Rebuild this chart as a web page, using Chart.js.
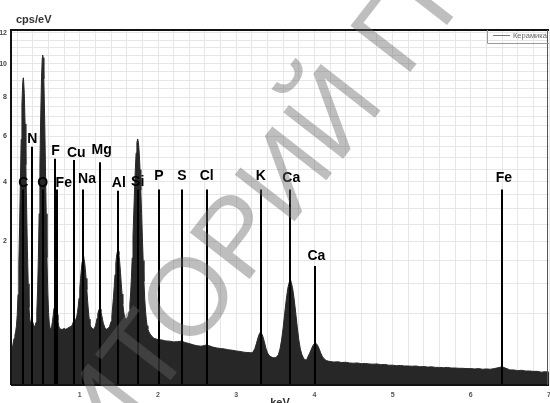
<!DOCTYPE html>
<html>
<head>
<meta charset="utf-8">
<script src="https://cdn.jsdelivr.net/npm/chart.js@4.4.1/dist/chart.umd.min.js"></script>
<style>
  html, body { margin: 0; padding: 0; background: #fff; }
  #wrap { width: 550px; height: 403px; }
</style>
</head>
<body>
<div id="wrap"><canvas id="spectrum" width="550" height="403"></canvas></div>
<script>
// EDS spectrum, values (cps/eV vs keV)
const energyKeV = [
  0.12,0.13,0.14,0.15,0.16,0.17,0.18,0.19,0.20,0.21,
  0.22,0.23,0.24,0.25,0.26,0.27,0.277,0.28,0.29,0.30,
  0.31,0.32,0.33,0.34,0.35,0.36,0.37,0.38,0.39,0.40,
  0.41,0.42,0.43,0.44,0.45,0.46,0.47,0.48,0.49,0.50,
  0.51,0.52,0.525,0.53,0.54,0.55,0.56,0.57,0.58,0.59,
  0.60,0.61,0.62,0.63,0.64,0.65,0.66,0.67,0.68,0.69,
  0.70,0.71,0.72,0.73,0.74,0.76,0.78,0.80,0.82,0.84,
  0.86,0.88,0.90,0.91,0.92,0.93,0.94,0.95,0.96,0.97,
  0.98,0.99,1.00,1.01,1.02,1.03,1.04,1.045,1.05,1.06,
  1.07,1.08,1.09,1.10,1.11,1.12,1.13,1.14,1.16,1.18,
  1.20,1.21,1.22,1.23,1.24,1.25,1.26,1.27,1.28,1.29,
  1.30,1.32,1.34,1.36,1.38,1.40,1.41,1.42,1.43,1.44,
  1.45,1.46,1.47,1.48,1.49,1.50,1.51,1.52,1.53,1.54,
  1.55,1.56,1.57,1.58,1.60,1.62,1.63,1.64,1.65,1.66,
  1.67,1.68,1.69,1.70,1.71,1.72,1.73,1.74,1.75,1.76,
  1.77,1.78,1.79,1.80,1.81,1.82,1.83,1.84,1.85,1.86,
  1.87,1.88,1.90,1.92,1.95,2.00,2.05,2.10,2.15,2.20,
  2.25,2.30,2.35,2.40,2.45,2.50,2.55,2.60,2.62,2.65,
  2.70,2.75,2.80,2.85,2.90,2.95,3.00,3.05,3.10,3.15,
  3.20,3.22,3.24,3.26,3.28,3.30,3.31,3.32,3.34,3.36,
  3.38,3.40,3.42,3.44,3.46,3.48,3.50,3.52,3.54,3.56,
  3.58,3.60,3.62,3.64,3.66,3.68,3.69,3.70,3.72,3.74,
  3.76,3.78,3.80,3.82,3.84,3.86,3.88,3.90,3.92,3.94,
  3.96,3.98,4.00,4.02,4.04,4.06,4.08,4.10,4.12,4.15,
  4.20,4.25,4.30,4.35,4.40,4.45,4.50,4.55,4.60,4.65,
  4.70,4.75,4.80,4.85,4.90,4.95,5.00,5.05,5.10,5.15,
  5.20,5.25,5.30,5.35,5.40,5.45,5.50,5.55,5.60,5.65,
  5.70,5.75,5.80,5.85,5.90,5.95,6.00,6.05,6.10,6.15,
  6.20,6.25,6.30,6.35,6.40,6.45,6.50,6.55,6.60,6.65,
  6.70,6.75,6.80,6.85,6.90,6.95,7.00
];
const cpsPerEv = [
  0.09,0.11,0.14,0.18,0.21,0.24,0.28,0.34,0.48,0.79,
  1.40,2.44,3.98,5.84,7.64,8.86,9.13,9.08,8.23,6.60,
  4.70,3.00,1.76,0.99,0.58,0.42,0.37,0.37,0.38,0.37,
  0.35,0.33,0.34,0.38,0.52,0.86,1.57,2.84,4.72,6.96,
  9.07,10.37,10.54,10.37,9.07,6.96,4.72,2.84,1.57,0.85,
  0.51,0.36,0.31,0.30,0.33,0.39,0.47,0.57,0.64,0.64,
  0.58,0.48,0.40,0.34,0.31,0.30,0.30,0.31,0.30,0.31,
  0.32,0.33,0.34,0.37,0.39,0.40,0.41,0.42,0.45,0.51,
  0.60,0.73,0.90,1.10,1.30,1.47,1.57,1.59,1.56,1.48,
  1.31,1.10,0.88,0.68,0.53,0.42,0.36,0.33,0.31,0.30,
  0.34,0.38,0.43,0.49,0.53,0.56,0.555,0.52,0.47,0.42,
  0.37,0.32,0.30,0.31,0.33,0.39,0.46,0.59,0.74,0.94,
  1.18,1.42,1.61,1.72,1.73,1.64,1.46,1.23,0.99,0.80,
  0.64,0.53,0.46,0.43,0.42,0.46,0.52,0.63,0.82,1.12,
  1.56,2.14,2.86,3.68,4.50,5.21,5.69,5.86,5.68,5.20,
  4.49,3.67,2.84,2.10,1.50,1.04,0.73,0.53,0.42,0.34,
  0.30,0.28,0.25,0.23,0.21,0.20,0.196,0.188,0.186,0.180,
  0.182,0.186,0.174,0.166,0.156,0.149,0.146,0.151,0.158,0.150,
  0.139,0.133,0.129,0.126,0.120,0.117,0.112,0.109,0.104,0.102,
  0.100,0.11,0.13,0.17,0.22,0.26,0.27,0.265,0.23,0.18,
  0.13,0.10,0.085,0.078,0.074,0.072,0.072,0.077,0.09,0.125,
  0.195,0.315,0.495,0.705,0.905,1.03,1.05,1.035,0.92,0.725,
  0.515,0.33,0.20,0.125,0.09,0.07,0.062,0.06,0.08,0.098,
  0.123,0.149,0.167,0.168,0.153,0.128,0.10,0.08,0.068,0.058,
  0.053,0.051,0.052,0.049,0.050,0.047,0.046,0.047,0.044,0.045,
  0.043,0.042,0.043,0.040,0.041,0.038,0.038,0.036,0.037,0.035,
  0.035,0.034,0.035,0.032,0.033,0.031,0.032,0.030,0.030,0.029,
  0.030,0.028,0.028,0.027,0.027,0.026,0.026,0.025,0.026,0.024,
  0.025,0.024,0.026,0.029,0.032,0.027,0.022,0.022,0.020,0.021,
  0.019,0.019,0.018,0.018,0.016,0.017,0.016
];

// element markers
const markerNames    = ['C','N','O','F','Fe','Cu','Na','Mg','Al','Si','P','S','Cl','K','Ca','Ca','Fe'];
const markerEnergies = [0.277,0.392,0.525,0.677,0.705,0.930,1.041,1.254,1.486,1.740,2.013,2.307,2.622,3.313,3.691,4.012,6.398];
const markerHeights  = [3.7,5.5,3.7,4.95,3.7,4.9,3.7,4.8,3.65,3.7,3.7,3.7,3.7,3.7,3.7,1.37,3.7];

const xTickLabels = [1,2,3,4,5,6,7];
const yTickLabels = [2,4,6,8,10,12];
const legendLabel = 'Керамика';
const xTitle = 'keV';
const yTitle = 'cps/eV';
const watermark = 'РЕПОЗИТОРИЙ ГГУ';

if (energyKeV.length !== cpsPerEv.length) console.log('length mismatch', energyKeV.length, cpsPerEv.length);

// square-root value axis (like the EDS software)
class SqrtScale extends Chart.Scale {
  determineDataLimits() {
    this.min = this.options.min;
    this.max = this.options.max;
  }
  buildTicks() {
    const ticks = [];
    for (let v = 0.5; v <= this.max + 1e-9; v += 0.5) ticks.push({ value: v });
    return ticks;
  }
  configure() {
    super.configure();
    this._startValue = Math.sqrt(this.min);
    this._valueRange = Math.sqrt(this.max) - this._startValue;
  }
  getPixelForValue(value) {
    return this.getPixelForDecimal((Math.sqrt(Math.max(value, 0)) - this._startValue) / this._valueRange);
  }
  getValueForPixel(pixel) {
    const d = this.getDecimalForPixel(pixel);
    return Math.pow(this._startValue + d * this._valueRange, 2);
  }
}
SqrtScale.id = 'sqrt';
SqrtScale.defaults = {};
Chart.register(SqrtScale);

const FONT = '"Liberation Sans", Arial, sans-serif';
// label nudges (px) so the text sits like in the original
const labelDx  = [0,0,0,1,7,2,4,2,1,0,0,0,0,0,1,1,2];
const labelGap = [2,4,2,4,2,3,6,8,4,3,9,9,9,9,7,6,7];

const decorPlugin = {
  id: 'decor',
  afterDatasetsDraw(chart) {
    const ctx = chart.ctx, xs = chart.scales.x, ys = chart.scales.y;
    const a = chart.chartArea;
    ctx.save();
    // marker lines
    ctx.strokeStyle = '#000';
    ctx.lineWidth = 2;
    markerEnergies.forEach((e, i) => {
      const x = Math.round(xs.getPixelForValue(e));
      const yTop = ys.getPixelForValue(markerHeights[i]);
      ctx.beginPath();
      ctx.moveTo(x, a.bottom);
      ctx.lineTo(x, yTop);
      ctx.stroke();
    });
    // marker labels
    ctx.fillStyle = '#000';
    ctx.font = 'bold 14px ' + FONT;
    ctx.textAlign = 'center';
    ctx.textBaseline = 'alphabetic';
    markerNames.forEach((n, i) => {
      const x = xs.getPixelForValue(markerEnergies[i]) + labelDx[i];
      const yTop = ys.getPixelForValue(markerHeights[i]);
      ctx.fillText(n, x, yTop - labelGap[i]);
    });
    // frame
    ctx.strokeStyle = '#111';
    ctx.lineWidth = 2;
    ctx.beginPath();
    ctx.moveTo(a.left, a.bottom); ctx.lineTo(a.left, a.top); ctx.lineTo(a.right, a.top);
    ctx.moveTo(a.left, a.bottom); ctx.lineTo(a.right, a.bottom);
    ctx.stroke();
    ctx.strokeStyle = '#555';
    ctx.lineWidth = 1;
    ctx.beginPath();
    ctx.moveTo(a.right - 1.5, a.top); ctx.lineTo(a.right - 1.5, a.bottom);
    ctx.stroke();
    // legend box
    ctx.strokeStyle = '#9a9a9a';
    ctx.beginPath();
    ctx.moveTo(487.5, a.top); ctx.lineTo(487.5, 43.5); ctx.lineTo(a.right, 43.5);
    ctx.stroke();
    ctx.strokeStyle = '#777';
    ctx.beginPath();
    ctx.moveTo(493, 35.5); ctx.lineTo(510, 35.5);
    ctx.stroke();
    ctx.fillStyle = '#666';
    ctx.font = '7.5px ' + FONT;
    ctx.textAlign = 'left';
    ctx.textBaseline = 'middle';
    ctx.fillText(legendLabel, 513, 36);
    // axis titles
    ctx.fillStyle = '#333';
    ctx.font = 'bold 11px ' + FONT;
    ctx.textBaseline = 'alphabetic';
    ctx.fillText(yTitle, 16, 23);
    ctx.textAlign = 'center';
    ctx.textBaseline = 'top';
    ctx.fillText(xTitle, 280, 397);
    ctx.restore();
  },
  afterDraw(chart) {
    const ctx = chart.ctx;
    ctx.save();
    ctx.font = '110px ' + FONT;
    ctx.fillStyle = 'rgba(100,100,100,0.42)';
    ctx.translate(190, 292);
    ctx.rotate(-0.91);
    const off = ctx.measureText('РЕПОЗИТ').width + ctx.measureText('О').width / 2;
    ctx.textBaseline = 'alphabetic';
    ctx.fillText(watermark, -off, 39);
    ctx.restore();
  }
};

const xGrid = [];
for (let v = 0.2; v <= 7.0001; v += 0.2) xGrid.push(Math.round(v * 10) / 10);

new Chart(document.getElementById('spectrum'), {
  type: 'line',
  data: {
    datasets: [{
      label: legendLabel,
      data: energyKeV.map((e, i) => ({ x: e, y: cpsPerEv[i] })),
      fill: 'origin',
      backgroundColor: '#272727',
      borderColor: '#272727',
      borderWidth: 1,
      pointRadius: 0,
      tension: 0
    }]
  },
  options: {
    responsive: false,
    animation: false,
    devicePixelRatio: 1,
    layout: { padding: { top: 30, right: 1, left: 0, bottom: 0 } },
    plugins: { legend: { display: false }, tooltip: { enabled: false } },
    scales: {
      x: {
        type: 'linear',
        min: 0.12,
        max: 7,
        afterBuildTicks: s => { s.ticks = xGrid.map(v => ({ value: v })); },
        afterFit: s => { s.height = 18; s.paddingLeft = 0; s.paddingRight = 0; },
        grid: { color: '#e6e6e6', lineWidth: 1, drawTicks: false },
        border: { display: false },
        ticks: {
          autoSkip: false,
          maxRotation: 0,
          padding: 6,
          color: '#555',
          font: { family: FONT, size: 7, weight: 'bold' },
          callback: v => xTickLabels.includes(v) ? String(v) : ''
        }
      },
      y: {
        type: 'sqrt',
        position: 'left',
        min: 0,
        max: 12.2,
        afterFit: s => { s.width = 11; s.paddingTop = 0; s.paddingBottom = 0; },
        grid: { color: '#e6e6e6', lineWidth: 1, drawTicks: false },
        border: { display: false },
        ticks: {
          autoSkip: false,
          padding: 4,
          color: '#444',
          font: { family: FONT, size: 7, weight: 'bold' },
          callback: v => yTickLabels.includes(v) ? String(v) : ''
        }
      }
    }
  },
  plugins: [decorPlugin]
});
</script>
</body>
</html>
